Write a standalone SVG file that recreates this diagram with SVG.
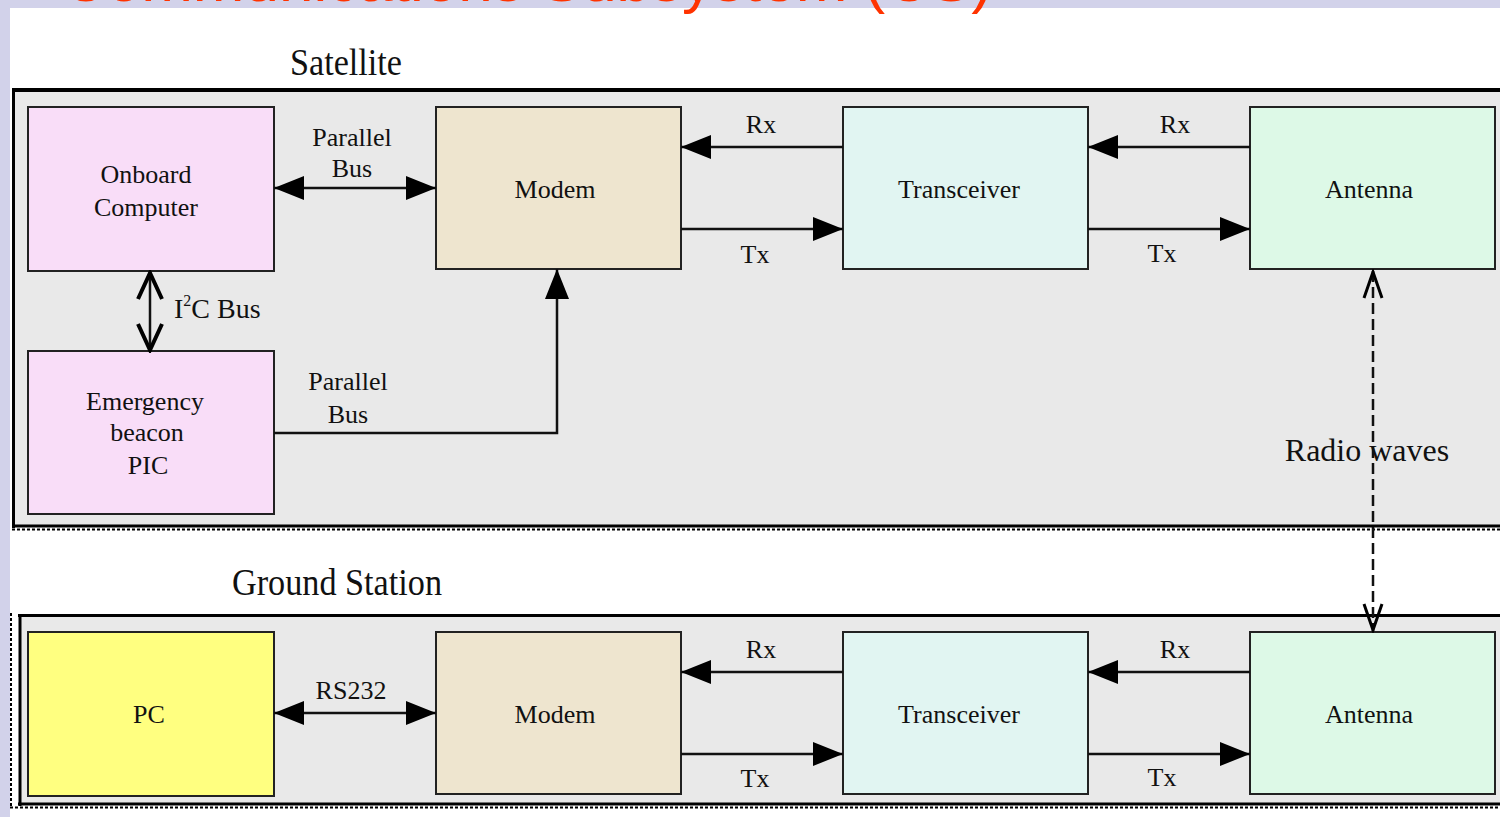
<svg xmlns="http://www.w3.org/2000/svg" width="1500" height="817" viewBox="0 0 1500 817">
  <defs>
    <style>
      .lbl { font-family: "Liberation Serif", "Times New Roman", serif; font-size: 26px; fill: #111; text-anchor: middle; }
      .lbl-start { font-family: "Liberation Serif", "Times New Roman", serif; font-size: 28px; fill: #111; text-anchor: start; }
      .node { stroke: #222; stroke-width: 2; }
      .conn { fill: none; stroke: #111; stroke-width: 2.5; }
      .panel { fill: #E9E9E9; }
      .title { font-family: "Liberation Serif", "Times New Roman", serif; font-size: 38px; fill: #111; }
    </style>
    <marker id="ah" viewBox="0 0 30 24" refX="30" refY="12" markerWidth="30" markerHeight="24" markerUnits="userSpaceOnUse" orient="auto-start-reverse">
      <path d="M0,0 L30,12 L0,24 Z" fill="#000"/>
    </marker>
    <marker id="open" viewBox="0 0 32 30" refX="30" refY="15" markerWidth="32" markerHeight="30" markerUnits="userSpaceOnUse" orient="auto-start-reverse">
      <path d="M3,3 L29,15 L3,27" fill="none" stroke="#000" stroke-width="4" stroke-linejoin="miter"/>
    </marker>
    <marker id="openthin" viewBox="0 0 32 24" refX="30" refY="12" markerWidth="32" markerHeight="24" markerUnits="userSpaceOnUse" orient="auto-start-reverse">
      <path d="M3,3 L29,12 L3,21" fill="none" stroke="#000" stroke-width="3"/>
    </marker>
  </defs>

  <!-- background -->
  <rect x="0" y="0" width="1500" height="817" fill="#D2D2EA"/>
  <rect x="10" y="8" width="1490" height="809" fill="#FFFFFF"/>

  <!-- panels -->
  <g id="satellite-panel">
    <rect class="panel" x="14" y="90" width="1490" height="437"/>
    <line x1="12" y1="90" x2="1500" y2="90" stroke="#000" stroke-width="4"/>
    <line x1="13.5" y1="88" x2="13.5" y2="528" stroke="#000" stroke-width="3"/>
    <line x1="12" y1="526" x2="1500" y2="526" stroke="#000" stroke-width="3"/>
    <line x1="12" y1="529.5" x2="1500" y2="529.5" stroke="#000" stroke-width="2" stroke-dasharray="3 2"/>
    <text class="title" x="290" y="75" textLength="112" lengthAdjust="spacingAndGlyphs">Satellite</text>
  </g>

  <g id="ground-panel">
    <rect class="panel" x="20" y="615" width="1480" height="190"/>
    <line x1="18" y1="615.5" x2="1500" y2="615.5" stroke="#000" stroke-width="3"/>
    <line x1="20" y1="614" x2="20" y2="806" stroke="#000" stroke-width="3"/>
    <line x1="18" y1="804" x2="1500" y2="804" stroke="#000" stroke-width="3"/>
    <line x1="10" y1="807.5" x2="1500" y2="807.5" stroke="#000" stroke-width="2" stroke-dasharray="3 2"/>
    <line x1="11" y1="613" x2="11" y2="808" stroke="#000" stroke-width="2" stroke-dasharray="3 2"/>
    <text class="title" x="232" y="595" textLength="210" lengthAdjust="spacingAndGlyphs">Ground Station</text>
  </g>

  <!-- satellite nodes -->
  <g id="onboard-computer">
    <rect class="node" x="28" y="107" width="246" height="164" fill="#F9DDF8"/>
    <text class="lbl" x="146" y="183">Onboard</text>
    <text class="lbl" x="146" y="216">Computer</text>
  </g>
  <g id="emergency-beacon">
    <rect class="node" x="28" y="351" width="246" height="163" fill="#F9DDF8"/>
    <text class="lbl" x="145" y="410">Emergency</text>
    <text class="lbl" x="147" y="441">beacon</text>
    <text class="lbl" x="148" y="474">PIC</text>
  </g>
  <g id="sat-modem">
    <rect class="node" x="436" y="107" width="245" height="162" fill="#EEE5CF"/>
    <text class="lbl" x="555" y="198">Modem</text>
  </g>
  <g id="sat-transceiver">
    <rect class="node" x="843" y="107" width="245" height="162" fill="#E1F5F2"/>
    <text class="lbl" x="959" y="198">Transceiver</text>
  </g>
  <g id="sat-antenna">
    <rect class="node" x="1250" y="107" width="245" height="162" fill="#DDF9E7"/>
    <text class="lbl" x="1369" y="198">Antenna</text>
  </g>

  <!-- ground nodes -->
  <g id="pc">
    <rect class="node" x="28" y="632" width="246" height="164" fill="#FFFF80"/>
    <text class="lbl" x="149" y="723">PC</text>
  </g>
  <g id="gnd-modem">
    <rect class="node" x="436" y="632" width="245" height="162" fill="#EEE5CF"/>
    <text class="lbl" x="555" y="723">Modem</text>
  </g>
  <g id="gnd-transceiver">
    <rect class="node" x="843" y="632" width="245" height="162" fill="#E1F5F2"/>
    <text class="lbl" x="959" y="723">Transceiver</text>
  </g>
  <g id="gnd-antenna">
    <rect class="node" x="1250" y="632" width="245" height="162" fill="#DDF9E7"/>
    <text class="lbl" x="1369" y="723">Antenna</text>
  </g>

  <!-- connectors -->
  <g id="connectors">
    <path class="conn" d="M274,188 H436" marker-start="url(#ah)" marker-end="url(#ah)"/>
    <text class="lbl" x="352" y="146">Parallel</text>
    <text class="lbl" x="352" y="177">Bus</text>

    <path class="conn" d="M150,272 V351" stroke-width="4" marker-start="url(#open)" marker-end="url(#open)"/>
    <text class="lbl-start" x="174" y="318">I<tspan font-size="16" dy="-12">2</tspan><tspan dy="12">C Bus</tspan></text>

    <path class="conn" d="M274,433 H557 V269" stroke-width="3" marker-end="url(#ah)"/>
    <text class="lbl" x="348" y="390">Parallel</text>
    <text class="lbl" x="348" y="423">Bus</text>

    <path class="conn" d="M843,147 H681" marker-end="url(#ah)"/>
    <text class="lbl" x="761" y="133">Rx</text>
    <path class="conn" d="M681,229 H843" marker-end="url(#ah)"/>
    <text class="lbl" x="755" y="263">Tx</text>
    <path class="conn" d="M1250,147 H1088" marker-end="url(#ah)"/>
    <text class="lbl" x="1175" y="133">Rx</text>
    <path class="conn" d="M1088,229 H1250" marker-end="url(#ah)"/>
    <text class="lbl" x="1162" y="262">Tx</text>

    <text class="lbl" x="1367" y="461" style="font-size:32px">Radio waves</text>
    <path class="conn" d="M1373,271 V631" stroke-width="2.5" stroke-dasharray="11 5" marker-start="url(#openthin)" marker-end="url(#openthin)"/>

    <path class="conn" d="M274,713 H436" marker-start="url(#ah)" marker-end="url(#ah)"/>
    <text class="lbl" x="351" y="699">RS232</text>

    <path class="conn" d="M843,672 H681" marker-end="url(#ah)"/>
    <text class="lbl" x="761" y="658">Rx</text>
    <path class="conn" d="M681,754 H843" marker-end="url(#ah)"/>
    <text class="lbl" x="755" y="787">Tx</text>
    <path class="conn" d="M1250,672 H1088" marker-end="url(#ah)"/>
    <text class="lbl" x="1175" y="658">Rx</text>
    <path class="conn" d="M1088,754 H1250" marker-end="url(#ah)"/>
    <text class="lbl" x="1162" y="786">Tx</text>
  </g>

  <!-- cut-off title -->
  <text x="62" y="1" font-family="Liberation Sans, Arial, sans-serif" font-size="62" fill="#FF3300" textLength="930" lengthAdjust="spacingAndGlyphs">Communications Subsystem (CS)</text>
</svg>
